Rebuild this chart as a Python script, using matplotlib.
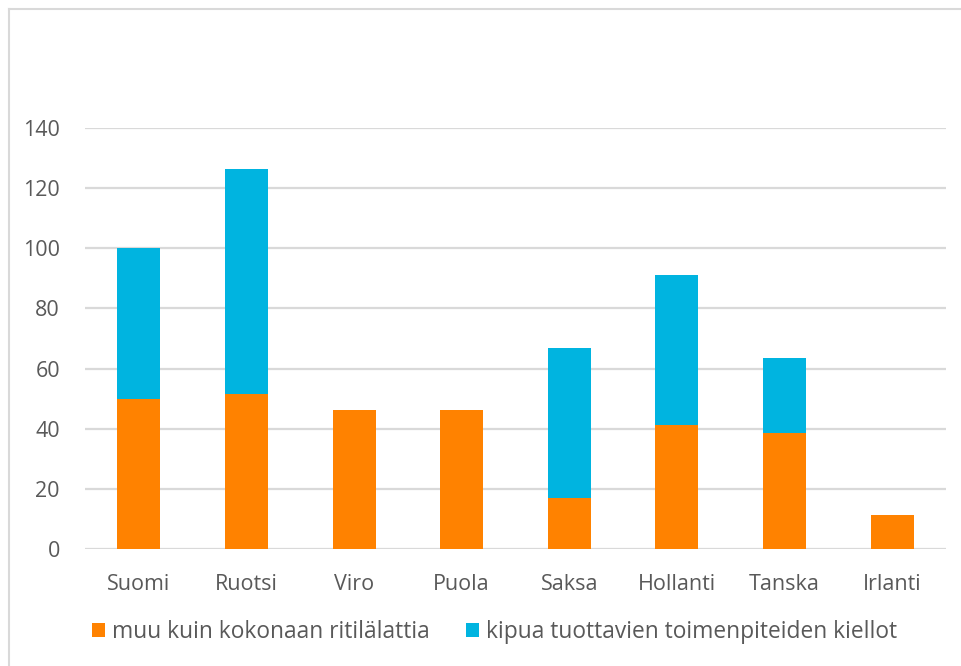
import matplotlib
matplotlib.use("Agg")
import matplotlib.pyplot as plt
from matplotlib.lines import Line2D
from matplotlib.patches import Patch

categories = ["Suomi", "Ruotsi", "Viro", "Puola", "Saksa", "Hollanti", "Tanska", "Irlanti"]
series_names = ["muu kuin kokonaan ritilälattia", "kipua tuottavien toimenpiteiden kiellot"]
base_values = [50, 51.5, 46.2, 46.2, 17, 41.2, 38.6, 11.3]
ban_values = [50, 75, 0, 0, 50, 50, 25, 0]
y_ticks = [0, 20, 40, 60, 80, 100, 120, 140]

orange = "#FF8200"
blue = "#00B4E0"
text_color = "#595959"
grid_color = "#D9D9D9"

plt.rcParams['font.family'] = ['Open Sans', 'DejaVu Sans']
FS = 15.5
LFS = 16.4

W, H = 962, 666
fig = plt.figure(figsize=(W / 100, H / 100), dpi=100)
ax = fig.add_axes([85 / W, (H - 549) / H, (946 - 85) / W, (549 - 128) / H])

x = list(range(len(categories)))
ax.bar(x, base_values, width=0.4, color=orange, zorder=3)
ax.bar(x, ban_values, width=0.4, bottom=base_values, color=blue, zorder=3)

ax.set_xlim(-0.5, len(categories) - 0.5)
ax.set_ylim(0, 140)
ax.set_yticks(y_ticks)
ax.set_xticks(x)
ax.set_xticklabels(categories)
ax.yaxis.grid(True, color=grid_color, linewidth=1.6, zorder=0)
ax.set_axisbelow(True)
for s in ax.spines.values():
    s.set_visible(False)
ax.tick_params(axis='both', length=0, labelsize=FS, colors=text_color)
ax.tick_params(axis='y', pad=18)
ax.tick_params(axis='x', pad=18)
for lbl in ax.get_yticklabels():
    lbl.set_horizontalalignment('right')

# legend
handles = [Patch(facecolor=orange, edgecolor='none'), Patch(facecolor=blue, edgecolor='none')]
leg = fig.legend(handles, series_names, loc='center left',
                 bbox_to_anchor=(92 / W, (H - 632) / H), ncol=2, frameon=False,
                 fontsize=LFS, handlelength=0.57, handleheight=0.57,
                 handletextpad=0.3, columnspacing=1.6, borderpad=0, borderaxespad=0)
for t in leg.get_texts():
    t.set_color(text_color)

# chart area border (left and top visible)
fig.add_artist(Line2D([8.5 / W, 8.5 / W], [0, 1 - 8.5 / H], transform=fig.transFigure,
                      color=grid_color, linewidth=1.5))
fig.add_artist(Line2D([8.5 / W, 1], [1 - 8.5 / H, 1 - 8.5 / H], transform=fig.transFigure,
                      color=grid_color, linewidth=1.5))

fig.savefig("out.png", dpi=100, facecolor="white")
